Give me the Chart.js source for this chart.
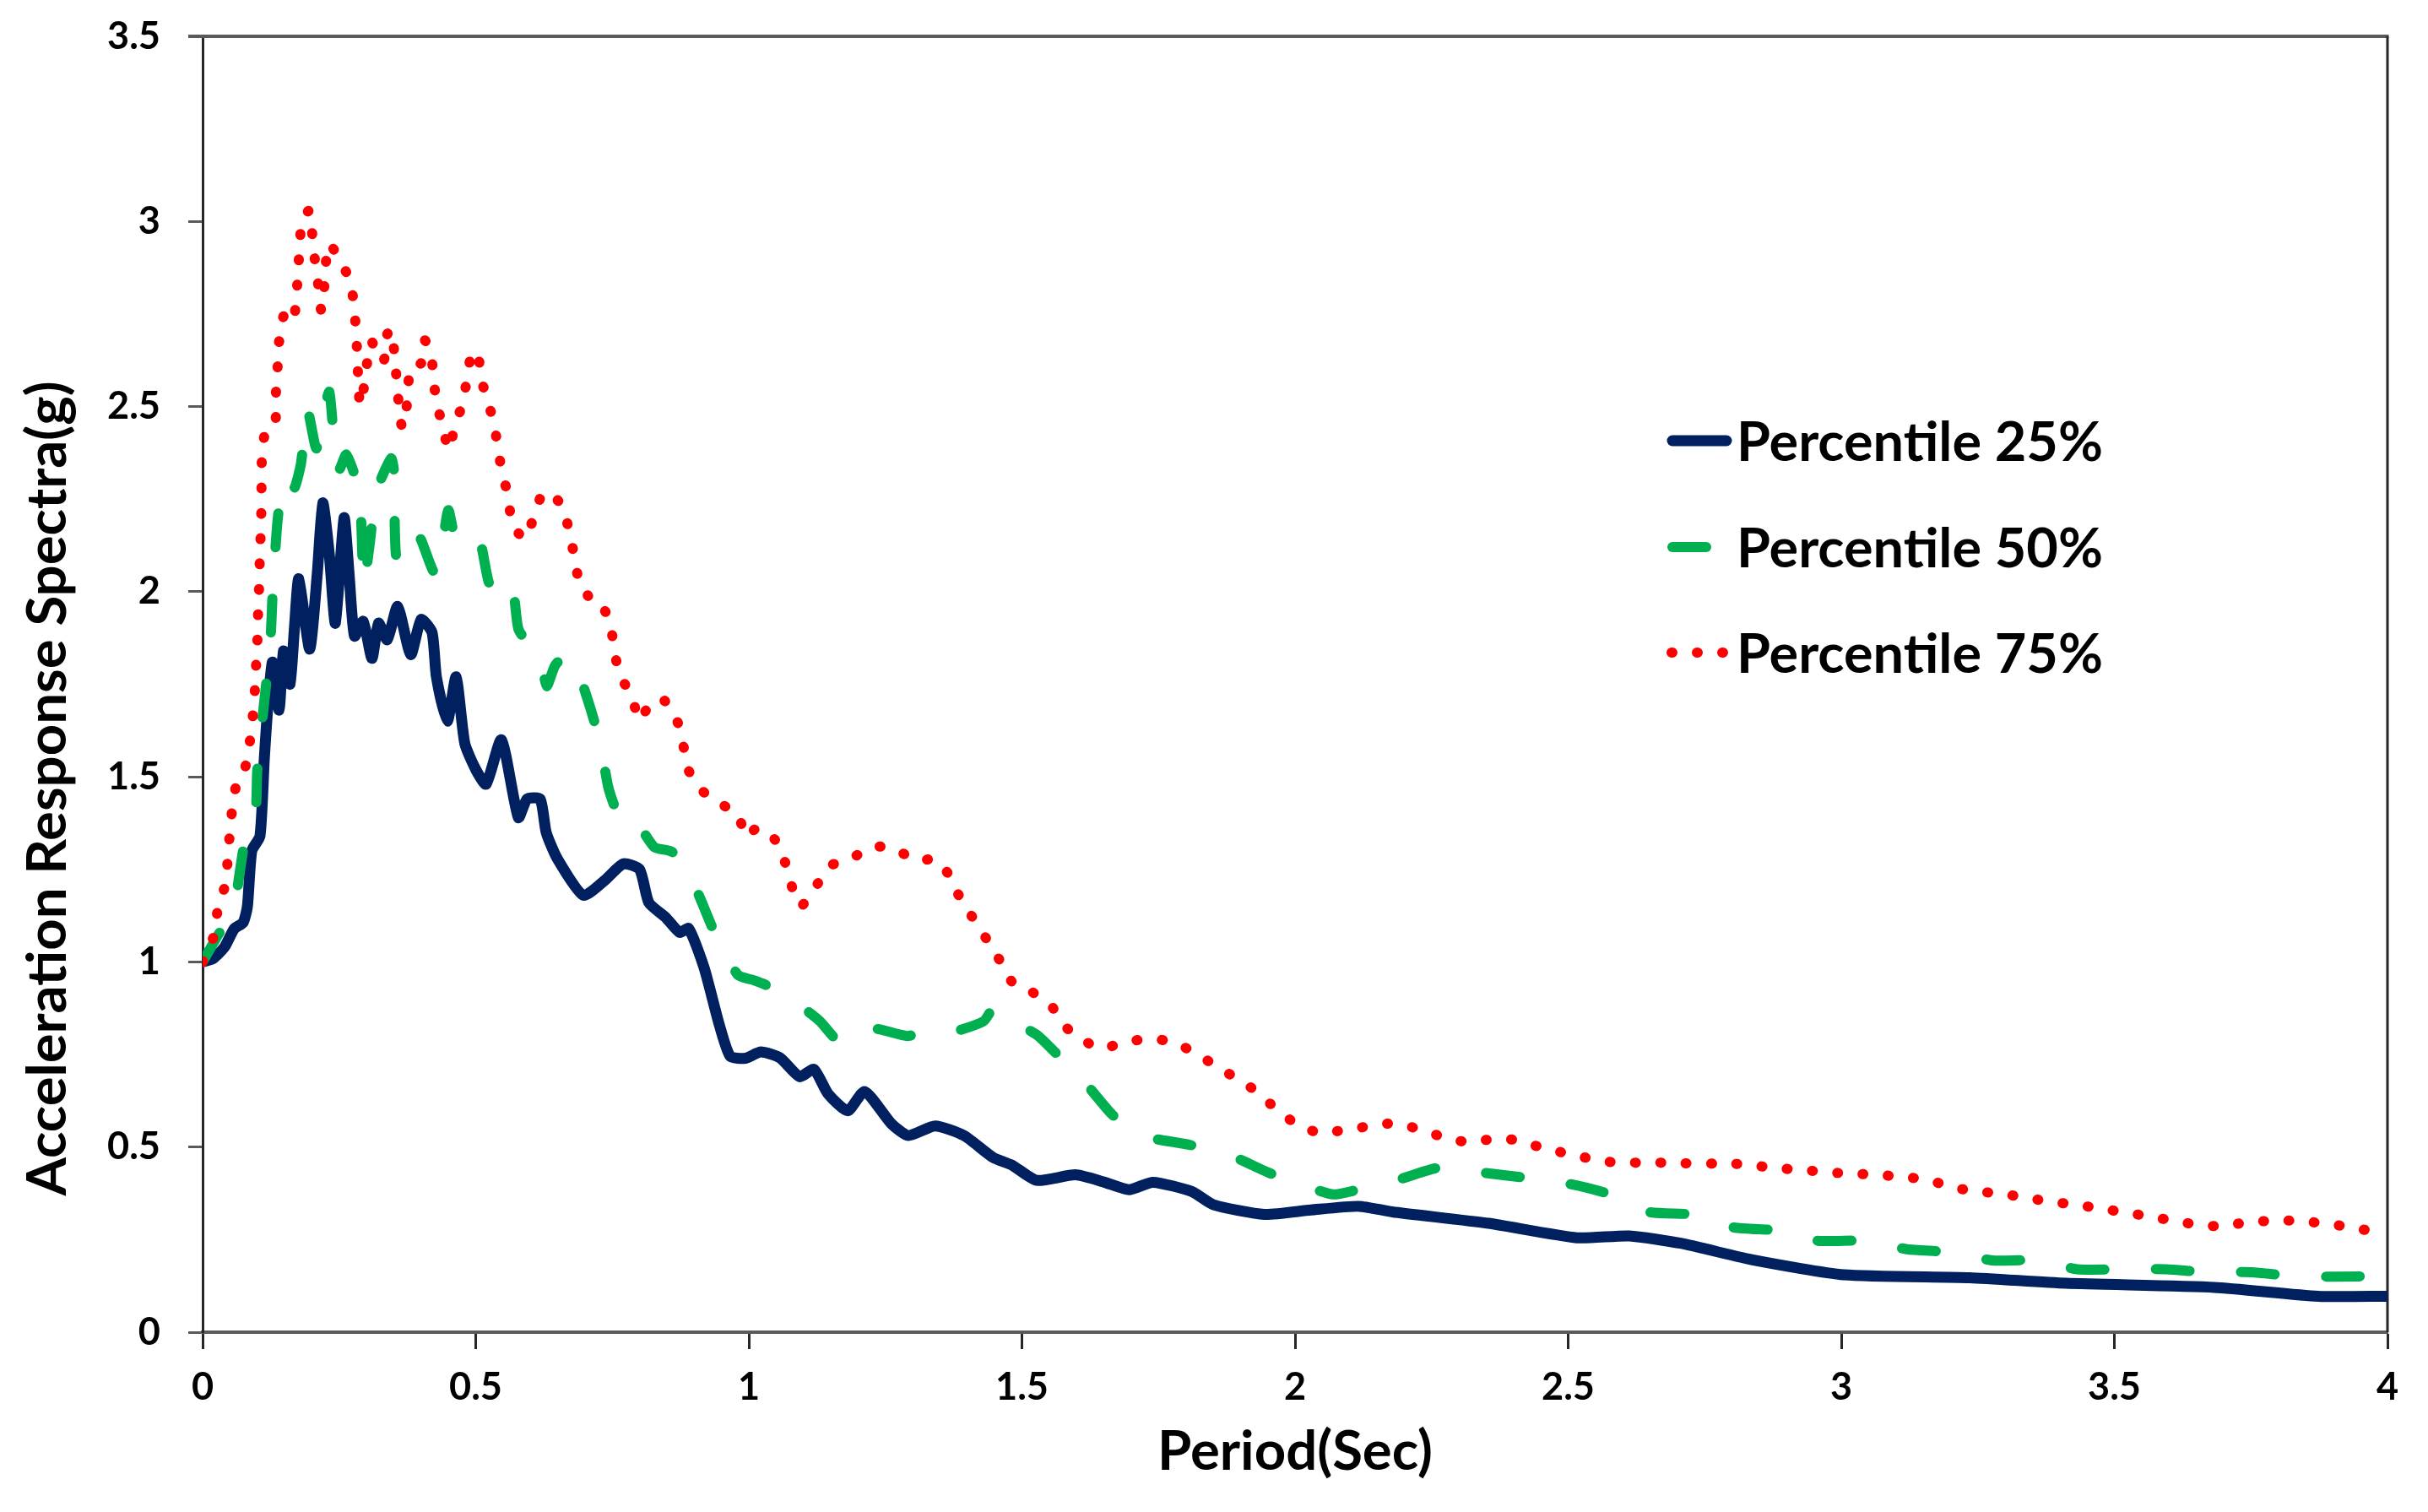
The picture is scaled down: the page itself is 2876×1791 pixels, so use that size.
<!DOCTYPE html>
<html>
<head>
<meta charset="utf-8">
<script src="https://cdn.jsdelivr.net/npm/chart.js@4.4.1/dist/chart.umd.min.js"></script>
<style>
html,body{margin:0;padding:0;background:#fff;overflow:hidden}
#wrap{width:2876px;height:1791px;position:relative;background:#fff}
</style>
</head>
<body>
<div id="wrap"><canvas id="c" width="2876" height="1791"></canvas></div>
<script>
// ---------- data ----------
const xTickValues = [0, 0.5, 1, 1.5, 2, 2.5, 3, 3.5, 4];
const xTickLabels = ['0', '0.5', '1', '1.5', '2', '2.5', '3', '3.5', '4'];
const yTickValues = [0, 0.5, 1, 1.5, 2, 2.5, 3, 3.5];
const yTickLabels = ['0', '0.5', '1', '1.5', '2', '2.5', '3', '3.5'];
const xTitle = 'Period(Sec)';
const yTitle = 'Acceleration Response Spectra(g)';
const seriesNames = ['Percentile 25%', 'Percentile 50%', 'Percentile 75%'];

const p25Period = [0, 0.02, 0.04, 0.058, 0.074, 0.082, 0.09, 0.105, 0.113, 0.12, 0.128, 0.14, 0.148, 0.16, 0.168, 0.176, 0.196, 0.21, 0.22, 0.232, 0.243, 0.259, 0.268, 0.278, 0.294, 0.31, 0.322, 0.338, 0.357, 0.381, 0.40, 0.42, 0.428, 0.448, 0.464, 0.48, 0.50, 0.519, 0.547, 0.578, 0.594, 0.618, 0.629, 0.649, 0.697, 0.736, 0.77, 0.80, 0.817, 0.848, 0.873, 0.89, 0.918, 0.946, 0.966, 0.994, 1.022, 1.057, 1.093, 1.119, 1.145, 1.181, 1.212, 1.261, 1.292, 1.341, 1.394, 1.447, 1.482, 1.527, 1.598, 1.651, 1.696, 1.74, 1.811, 1.851, 1.944, 2.029, 2.117, 2.178, 2.354, 2.516, 2.612, 2.706, 2.842, 3.005, 3.235, 3.411, 3.683, 3.873, 4.0];
const p25Accel  = [1.0, 1.01, 1.04, 1.09, 1.106, 1.15, 1.30, 1.34, 1.55, 1.70, 1.81, 1.68, 1.84, 1.75, 1.90, 2.035, 1.845, 2.05, 2.24, 2.10, 1.915, 2.20, 2.05, 1.88, 1.92, 1.82, 1.915, 1.87, 1.96, 1.83, 1.925, 1.89, 1.77, 1.65, 1.77, 1.59, 1.52, 1.48, 1.60, 1.39, 1.44, 1.44, 1.35, 1.28, 1.18, 1.22, 1.265, 1.25, 1.16, 1.12, 1.08, 1.09, 0.985, 0.83, 0.745, 0.74, 0.757, 0.741, 0.69, 0.71, 0.644, 0.598, 0.65, 0.563, 0.531, 0.557, 0.531, 0.472, 0.451, 0.41, 0.425, 0.405, 0.385, 0.405, 0.38, 0.344, 0.318, 0.33, 0.34, 0.325, 0.294, 0.255, 0.26, 0.24, 0.194, 0.155, 0.147, 0.132, 0.121, 0.097, 0.097];

const p50Period = [0, 0.026, 0.042, 0.06, 0.077, 0.097, 0.10, 0.109, 0.117, 0.125, 0.128, 0.133, 0.14, 0.16, 0.168, 0.18, 0.192, 0.208, 0.22, 0.232, 0.24, 0.25, 0.263, 0.287, 0.295, 0.306, 0.318, 0.345, 0.35, 0.356, 0.39, 0.40, 0.425, 0.44, 0.45, 0.464, 0.485, 0.507, 0.524, 0.545, 0.567, 0.578, 0.60, 0.618, 0.63, 0.645, 0.665, 0.681, 0.709, 0.728, 0.743, 0.76, 0.78, 0.793, 0.827, 0.855, 0.878, 0.91, 0.94, 0.98, 1.01, 1.043, 1.07, 1.10, 1.13, 1.17, 1.226, 1.29, 1.33, 1.37, 1.43, 1.45, 1.497, 1.53, 1.558, 1.612, 1.665, 1.70, 1.727, 1.807, 1.882, 1.953, 2.028, 2.07, 2.11, 2.185, 2.266, 2.348, 2.422, 2.504, 2.578, 2.646, 2.734, 2.802, 2.89, 2.957, 3.046, 3.12, 3.2, 3.276, 3.357, 3.432, 3.513, 3.595, 3.669, 3.751, 3.825, 3.907, 4.0];
const p50Accel  = [1.0, 1.067, 1.106, 1.17, 1.325, 1.41, 1.516, 1.65, 1.76, 1.89, 1.99, 2.11, 2.225, 2.31, 2.28, 2.345, 2.49, 2.387, 2.475, 2.54, 2.42, 2.33, 2.37, 2.27, 2.02, 2.13, 2.27, 2.36, 2.33, 2.08, 2.16, 2.14, 2.05, 2.14, 2.22, 2.14, 2.16, 2.14, 2.025, 1.98, 2.01, 1.90, 1.85, 1.82, 1.745, 1.80, 1.83, 1.81, 1.69, 1.59, 1.47, 1.40, 1.37, 1.38, 1.31, 1.30, 1.28, 1.175, 1.07, 0.965, 0.95, 0.93, 0.90, 0.875, 0.84, 0.78, 0.82, 0.80, 0.815, 0.81, 0.84, 0.878, 0.83, 0.80, 0.76, 0.68, 0.588, 0.55, 0.527, 0.506, 0.477, 0.43, 0.39, 0.372, 0.383, 0.41, 0.445, 0.43, 0.417, 0.40, 0.372, 0.325, 0.317, 0.283, 0.274, 0.247, 0.247, 0.224, 0.216, 0.194, 0.194, 0.17, 0.17, 0.17, 0.162, 0.162, 0.152, 0.15, 0.152];

const p75Period = [0, 0.023, 0.028, 0.042, 0.046, 0.05, 0.054, 0.062, 0.077, 0.085, 0.091, 0.095, 0.097, 0.10, 0.101, 0.103, 0.105, 0.107, 0.108, 0.109, 0.117, 0.133, 0.134, 0.137, 0.139, 0.145, 0.154, 0.167, 0.172, 0.175, 0.178, 0.182, 0.196, 0.201, 0.206, 0.212, 0.217, 0.222, 0.225, 0.232, 0.253, 0.271, 0.277, 0.281, 0.283, 0.285, 0.288, 0.294, 0.30, 0.309, 0.322, 0.332, 0.338, 0.346, 0.351, 0.355, 0.359, 0.365, 0.372, 0.376, 0.381, 0.40, 0.406, 0.418, 0.423, 0.428, 0.44, 0.45, 0.462, 0.476, 0.484, 0.492, 0.504, 0.509, 0.522, 0.534, 0.541, 0.549, 0.56, 0.565, 0.575, 0.59, 0.606, 0.622, 0.638, 0.661, 0.671, 0.681, 0.689, 0.705, 0.726, 0.736, 0.748, 0.754, 0.765, 0.786, 0.80, 0.822, 0.846, 0.869, 0.88, 0.889, 0.91, 0.946, 0.981, 0.993, 1.017, 1.051, 1.068, 1.08, 1.095, 1.122, 1.148, 1.187, 1.226, 1.267, 1.305, 1.341, 1.367, 1.387, 1.412, 1.436, 1.46, 1.483, 1.516, 1.553, 1.578, 1.612, 1.645, 1.69, 1.733, 1.777, 1.818, 1.857, 1.895, 1.933, 1.967, 2.005, 2.046, 2.09, 2.135, 2.18, 2.226, 2.269, 2.312, 2.355, 2.399, 2.444, 2.487, 2.53, 2.575, 2.621, 2.666, 2.711, 2.802, 2.846, 2.892, 2.937, 2.982, 3.028, 3.073, 3.118, 3.162, 3.206, 3.252, 3.297, 3.342, 3.385, 3.43, 3.475, 3.52, 3.563, 3.608, 3.653, 3.696, 3.743, 3.788, 3.831, 3.876, 3.922, 3.967, 4.0];
const p75Accel  = [1.0, 1.08, 1.15, 1.21, 1.28, 1.35, 1.41, 1.48, 1.52, 1.58, 1.65, 1.715, 1.78, 1.85, 1.92, 1.99, 2.11, 2.18, 2.31, 2.38, 2.445, 2.46, 2.53, 2.60, 2.66, 2.73, 2.76, 2.74, 2.805, 2.87, 2.94, 3.005, 3.03, 2.96, 2.89, 2.825, 2.76, 2.81, 2.88, 2.94, 2.89, 2.837, 2.77, 2.705, 2.64, 2.57, 2.504, 2.54, 2.607, 2.677, 2.625, 2.625, 2.695, 2.708, 2.643, 2.576, 2.51, 2.444, 2.477, 2.546, 2.61, 2.617, 2.68, 2.643, 2.576, 2.51, 2.447, 2.383, 2.447, 2.51, 2.574, 2.64, 2.647, 2.58, 2.515, 2.45, 2.383, 2.318, 2.255, 2.19, 2.164, 2.142, 2.20, 2.265, 2.265, 2.225, 2.16, 2.094, 2.028, 1.99, 1.95, 1.95, 1.90, 1.835, 1.773, 1.715, 1.652, 1.705, 1.705, 1.65, 1.585, 1.52, 1.468, 1.429, 1.398, 1.338, 1.363, 1.325, 1.262, 1.198, 1.15, 1.202, 1.259, 1.279, 1.311, 1.306, 1.274, 1.277, 1.234, 1.172, 1.115, 1.06, 1.003, 0.944, 0.921, 0.883, 0.827, 0.789, 0.766, 0.784, 0.792, 0.784, 0.753, 0.718, 0.683, 0.647, 0.60, 0.56, 0.538, 0.546, 0.556, 0.564, 0.549, 0.528, 0.514, 0.52, 0.52, 0.502, 0.486, 0.472, 0.46, 0.458, 0.458, 0.456, 0.455, 0.449, 0.442, 0.437, 0.431, 0.428, 0.424, 0.419, 0.41, 0.39, 0.38, 0.373, 0.362, 0.352, 0.344, 0.334, 0.323, 0.313, 0.301, 0.29, 0.286, 0.297, 0.301, 0.301, 0.295, 0.286, 0.274, 0.265];

// ---------- fonts ----------
const FAMILY = "Lato,'Open Sans','DejaVu Sans Condensed',sans-serif";
const mctx = document.createElement('canvas').getContext('2d');
function fitSize(text, targetW) {
  mctx.font = 'bold 100px ' + FAMILY;
  return 100 * targetW / mctx.measureText(text).width;
}
const legendSize = fitSize('Percentile 25%', 434);
const titleSize = fitSize('Period(Sec)', 326);
const tickSize = fitSize('3.5', 63);

function pairs(xs, ys) { return xs.map((x, i) => ({x: x, y: ys[i]})); }

const COLORS = ['#002060', '#00B050', '#FF0000'];

// ---------- plugins ----------
const framePlugin = {
  id: 'frame',
  beforeDatasetsDraw(chart) {
    const ctx = chart.ctx, ca = chart.chartArea;
    ctx.save();
    ctx.lineCap = 'butt';
    ctx.strokeStyle = '#5a5a5a'; ctx.lineWidth = 4;
    ctx.beginPath(); ctx.moveTo(ca.left - 17, ca.top); ctx.lineTo(ca.right + 1.5, ca.top); ctx.stroke();
    ctx.strokeStyle = '#262626'; ctx.lineWidth = 3;
    ctx.beginPath(); ctx.moveTo(ca.right, ca.top); ctx.lineTo(ca.right, ca.bottom); ctx.stroke();
    ctx.restore();
  }
};

const titlePlugin = {
  id: 'axisTitles',
  afterDraw(chart) {
    const ctx = chart.ctx, ca = chart.chartArea;
    ctx.save();
    ctx.fillStyle = '#000';
    ctx.font = 'bold ' + titleSize + 'px ' + FAMILY;
    ctx.textAlign = 'center';
    ctx.textBaseline = 'alphabetic';
    ctx.fillText(xTitle, (ca.left + ca.right) / 2, ca.bottom + 163);
    ctx.translate(ca.left - 162, ca.bottom - 644);
    ctx.rotate(-Math.PI / 2);
    ctx.fillText(yTitle, 0, 0);
    ctx.restore();
  }
};

const legendPlugin = {
  id: 'insideLegend',
  afterDraw(chart) {
    const ctx = chart.ctx;
    const rows = [522, 648, 773];
    const samples = [[1981, 2045], [1981, 2027], [1980, 2045]];
    ctx.save();
    ctx.font = 'bold ' + legendSize + 'px ' + FAMILY;
    const capH = ctx.measureText('P').actualBoundingBoxAscent;
    chart.data.datasets.forEach((ds, i) => {
      const y = rows[i];
      ctx.strokeStyle = ds.borderColor;
      ctx.lineWidth = ds.borderWidth;
      ctx.lineCap = 'round';
      ctx.setLineDash(ds.borderDash || []);
      ctx.beginPath(); ctx.moveTo(samples[i][0], y); ctx.lineTo(samples[i][1], y); ctx.stroke();
      ctx.setLineDash([]);
      ctx.fillStyle = '#000';
      ctx.textAlign = 'left';
      ctx.textBaseline = 'alphabetic';
      ctx.fillText(ds.label, 2057, y + capH / 2);
    });
    ctx.restore();
  }
};

// ---------- chart ----------
const tickFont = {family: FAMILY, size: tickSize, weight: 'bold'};

new Chart(document.getElementById('c'), {
  type: 'line',
  data: {
    datasets: [
      {label: seriesNames[0], data: pairs(p25Period, p25Accel), borderColor: COLORS[0], borderWidth: 13,
       borderJoinStyle: 'round', borderCapStyle: 'round', pointRadius: 0, tension: 0.2, order: 3},
      {label: seriesNames[1], data: pairs(p50Period, p50Accel), borderColor: COLORS[1], borderWidth: 12,
       borderDash: [40, 61], borderJoinStyle: 'round', borderCapStyle: 'round', pointRadius: 0, tension: 0.2, order: 2},
      {label: seriesNames[2], data: pairs(p75Period, p75Accel), borderColor: COLORS[2], borderWidth: 12,
       borderDash: [1, 29], borderJoinStyle: 'round', borderCapStyle: 'round', pointRadius: 0, tension: 0.2, order: 1}
    ]
  },
  options: {
    responsive: false,
    maintainAspectRatio: false,
    devicePixelRatio: 1,
    animation: false,
    events: [],
    layout: {padding: {top: 43, right: 48, left: 0, bottom: 0}},
    plugins: {legend: {display: false}, tooltip: {enabled: false}, title: {display: false}},
    scales: {
      x: {
        type: 'linear', min: 0, max: 4,
        afterBuildTicks: s => { s.ticks = xTickValues.map(v => ({value: v})); },
        afterFit: s => { s.height = 213; s.paddingLeft = 0; s.paddingRight = 0; },
        ticks: {font: tickFont, color: '#000', padding: 18, maxRotation: 0, autoSkip: false,
                callback: (v) => xTickLabels[xTickValues.indexOf(v)]},
        grid: {display: true, drawOnChartArea: false, drawTicks: true, tickLength: 20, tickColor: '#262626', tickWidth: 3},
        border: {display: true, color: '#5a5a5a', width: 4}
      },
      y: {
        type: 'linear', min: 0, max: 3.5,
        afterBuildTicks: s => { s.ticks = yTickValues.map(v => ({value: v})); },
        afterFit: s => { s.width = 240; s.paddingTop = 0; s.paddingBottom = 0; },
        ticks: {font: tickFont, color: '#000', padding: 33, autoSkip: false,
                callback: (v) => yTickLabels[yTickValues.indexOf(v)]},
        grid: {display: true, drawOnChartArea: false, drawTicks: true, tickLength: 17, tickColor: '#5a5a5a', tickWidth: 3},
        border: {display: true, color: '#262626', width: 3}
      }
    }
  },
  plugins: [framePlugin, titlePlugin, legendPlugin]
});
</script>
</body>
</html>
